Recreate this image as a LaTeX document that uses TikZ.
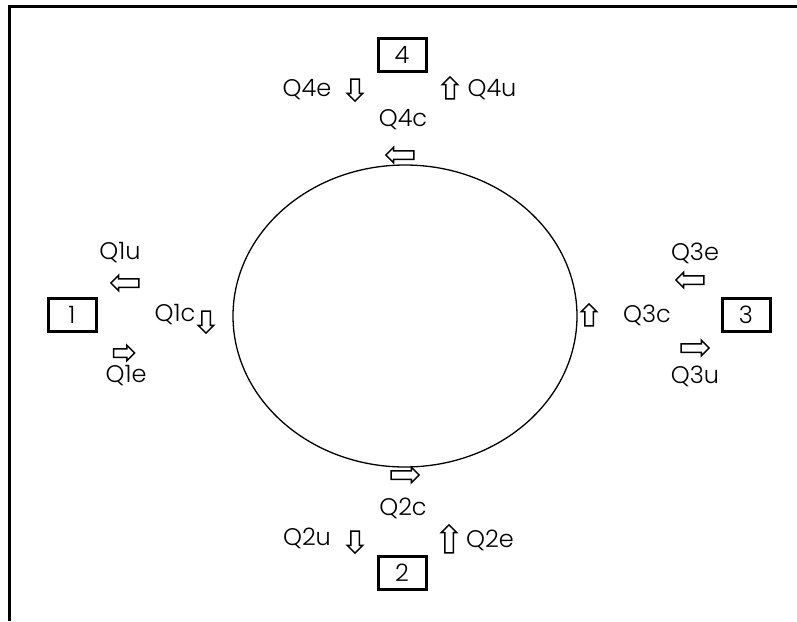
\documentclass[tikz,border=0pt]{standalone}
\usepackage{fontspec}
\setmainfont{Poppins Light}
\usetikzlibrary{shapes.arrows}
\begin{document}
\begin{tikzpicture}[x=1pt,y=-1pt,
    lbl/.style={font=\fontsize{24}{28}\selectfont, inner sep=0pt},
    numbox/.style={draw, line width=3pt, minimum width=48pt, minimum height=33pt, inner sep=0pt, font=\fontsize{24}{28}\selectfont},
    flow/.style={single arrow, draw, line width=1.5pt, fill=white, inner sep=3.5pt, single arrow head extend=3.5pt, minimum height=28pt},
    flowv/.style={flow, minimum height=22pt}]
    \useasboundingbox (0,0) rectangle (797,621);
    \draw[line width=3pt] (9,621) -- (9,6) -- (797,6);
    \draw[line width=1.3pt] (405,316) ellipse (172 and 151);
    % station 1
    \node[numbox] (S1) at (72,315) {1};
    \node[lbl] (Q1u) at (120,253) {Q1u};
    \node[flow, rotate=180] (A1u) at (127,283) {};
    \node[lbl] (Q1c) at (175,315) {Q1c};
    \node[flowv, rotate=270] (A1c) at (206,320) {};
    \node[flow, minimum height=21pt] (A1e) at (122,353) {};
    \node[lbl] (Q1e) at (126,376) {Q1e};
    % station 4
    \node[numbox] (S4) at (402,55) {4};
    \node[lbl] (Q4e) at (307,90) {Q4e};
    \node[flowv, rotate=270] (A4e) at (355,88) {};
    \node[flowv, rotate=90] (A4u) at (450,90) {};
    \node[lbl] (Q4u) at (492,90) {Q4u};
    \node[lbl] (Q4c) at (403,120) {Q4c};
    \node[flow, rotate=180] (A4c) at (402,155) {};
    % station 3
    \node[numbox] (S3) at (746,315) {3};
    \node[lbl] (Q3e) at (695,253) {Q3e};
    \node[flow, rotate=180] (A3e) at (692,280) {};
    \node[flowv, rotate=90] (A3c) at (589,317) {};
    \node[lbl] (Q3c) at (647,315) {Q3c};
    \node[flow] (A3u) at (693,348) {};
    \node[lbl] (Q3u) at (695,376) {Q3u};
    % station 2
    \node[flow] (A2c) at (403,475) {};
    \node[lbl] (Q2c) at (403,508) {Q2c};
    \node[lbl] (Q2u) at (307,538) {Q2u};
    \node[flowv, rotate=270] (A2u) at (355,540) {};
    \node[flowv, minimum height=28pt, rotate=90] (A2e) at (449,541) {};
    \node[lbl] (Q2e) at (490,540) {Q2e};
    \node[numbox] (S2) at (402,573) {2};
\end{tikzpicture}
\end{document}
